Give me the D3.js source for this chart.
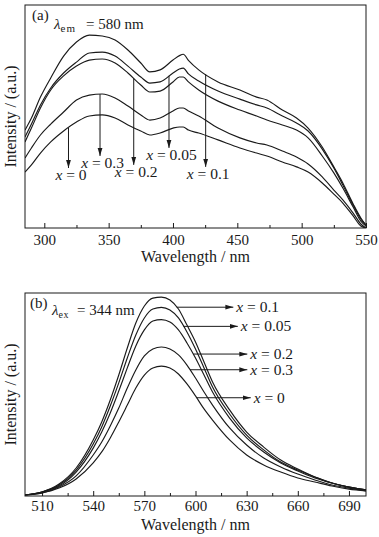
<!DOCTYPE html>
<html><head><meta charset="utf-8">
<script src="https://cdn.jsdelivr.net/npm/d3@7"></script>
<style>
body{margin:0;background:#fff}
svg{display:block}
</style>
</head><body><svg id="c" width="379" height="537"></svg>
<script>
// ---------- Panel (a): excitation spectra, lambda_em = 580 nm ----------
const exWl = [285,290,297,305,315,325,335,345,355,365,375,382,390,400,405,408,412,420,435,452,465,473,485,496,505,516,525,532,540,546,550];
const exX01  = [43.9,49.3,58.7,67.3,77.1,83.4,86.5,86.1,84.3,79.8,74.0,70.0,70.9,75.3,77.3,77.9,75.2,70.9,65.5,61.9,58.7,57.4,52.9,49.3,44.8,36.3,27.4,20.2,10.8,4.5,1.3];
const exX005 = [40.8,46.6,55.2,62.8,69.5,74.4,78.5,78.9,77.1,72.6,67.7,65.0,65.5,69.5,71.3,71.7,69.1,65.9,61.4,57.8,55.2,53.8,50.2,47.1,43.5,35.4,26.9,19.3,10.3,4.0,1.3];
const exX02  = [38.6,44.8,53.8,61.9,68.2,72.6,75.3,75.8,74.0,69.5,64.1,61.0,61.4,65.5,67.7,67.7,65.5,61.9,56.9,52.9,50.2,48.4,46.2,43.9,40.4,32.3,24.7,17.9,9.4,3.1,0.9];
const exX03  = [31.4,35.9,41.7,46.6,52.0,57.4,59.6,60.1,58.3,54.7,50.7,48.4,49.3,52.5,53.8,53.8,52.5,50.2,44.8,40.4,38.1,37.2,34.5,31.8,28.7,22.9,17.0,12.6,6.7,1.8,0];
const exX0   = [25.1,28.3,33.6,38.6,43.5,47.5,50.2,50.7,49.3,46.2,43.5,41.7,42.6,44.8,45.3,45.3,43.9,42.6,39.5,35.9,33.6,32.3,29.6,27.4,25.1,20.2,15.2,11.2,5.4,0.9,0];
const exTicksMajor = [300,350,400,450,500,550];
const exTicksMinor = [325,375,425,475,525];
// arrows (a): wavelength where arrow leaves the curve, intensity of arrow tip
const exArrowWl  = [425.4,396.9,369.5,343.3,318.8];
const exArrowTip = [27.4,35.9,28.3,32.3,26.9];

// ---------- Panel (b): emission spectra, lambda_ex = 344 nm ----------
const emWl = [500,510,520,530,540,545,550,555,560,565,570,575,580,585,590,595,600,605,610,620,630,640,650,660,670,680,690,700];
const emX01  = [0.5,2.0,5.9,13.8,27.6,36.5,47.3,59.6,72.9,85.2,93.6,97.5,98.0,96.6,92.1,84.2,75.9,66.0,56.2,42.4,31.5,24.1,17.7,13.3,9.4,6.4,4.4,3.0];
const emX005 = [0.5,2.0,5.4,12.8,25.6,34.0,44.3,55.7,68.0,79.3,87.7,92.1,92.9,91.6,87.7,80.8,72.4,63.1,53.7,40.4,30.0,22.7,16.7,12.8,9.4,6.4,4.4,3.0];
const emX02  = [0.5,2.0,4.9,11.8,23.6,31.5,40.9,51.7,63.1,73.9,81.8,86.2,86.9,85.7,81.8,75.4,68.0,59.6,51.2,38.4,28.6,21.7,16.3,12.3,8.9,6.4,4.4,3.0];
const emX03  = [0.5,1.5,4.4,9.9,20.2,26.6,34.5,43.3,53.2,62.1,69.0,72.4,73.4,72.4,69.5,64.5,58.1,51.2,44.8,33.5,25.1,18.7,14.3,10.8,7.9,5.4,3.9,2.5];
const emX0   = [0.5,1.5,3.9,8.4,16.3,21.7,28.6,36.5,44.8,53.2,59.6,63.1,64.0,63.1,60.1,55.2,49.3,42.9,37.4,27.6,20.2,15.3,11.8,8.9,6.9,4.9,3.4,2.5];
const emTicksMajor = [510,540,570,600,630,660,690];
const emTicksMinor = [525,555,585,615,645,675];
// arrows (b): wavelength where arrow leaves the curve, wavelength of arrow tip
const emArrowWl    = [589,593,598.7,596.8,600.7];
const emArrowTipWl = [622.2,624.8,630.4,630.4,632.4];

const seriesX = ["0.1","0.05","0.2","0.3","0"];

// ---------- drawing ----------
const FONT = '"Liberation Serif","Times New Roman","DejaVu Serif",Times,serif';
const svg = d3.select("#c");
const ink = "#1a1a1a";

const defs = svg.append("defs");
defs.append("marker").attr("id","ah").attr("viewBox","0 -3 8 6")
  .attr("refX",8).attr("refY",0).attr("markerWidth",8).attr("markerHeight",6)
  .attr("markerUnits","userSpaceOnUse").attr("orient","auto")
  .append("path").attr("d","M0,-2.4L8,0L0,2.4Z").attr("fill",ink);

function txt(sel){ return sel.style("font-family",FONT).attr("fill",ink); }

function interp(xs, ys, x){
  const i = Math.max(1, Math.min(xs.length-1, d3.bisectLeft(xs, x)));
  const t = (x - xs[i-1])/(xs[i]-xs[i-1]);
  return ys[i-1] + t*(ys[i]-ys[i-1]);
}

function panel(o){
  const g = svg.append("g");
  const x = d3.scaleLinear(o.xd, [25,366]);
  const y = d3.scaleLinear([0,100], [o.bottom, o.top]);
  const cid = "clip"+o.id;
  defs.append("clipPath").attr("id",cid).append("rect")
    .attr("x",25).attr("y",o.top).attr("width",341).attr("height",o.bottom-o.top);

  // curves
  const line = d3.line().x((d,i)=>x(o.wl[i])).y(d=>y(d)).curve(d3.curveMonotoneX);
  g.append("g").attr("clip-path",`url(#${cid})`).selectAll("path").data(o.series).join("path")
    .attr("d",d=>line(d)).attr("fill","none").attr("stroke",ink).attr("stroke-width",1.15);

  // axes (ticks inward)
  const ax = g.append("g").attr("transform",`translate(0,${o.bottom})`)
    .call(d3.axisBottom(x).tickValues(o.major).tickSizeInner(-5).tickSizeOuter(0).tickPadding(o.pad).tickFormat(d3.format("d")));
  ax.select(".domain").remove();
  ax.selectAll("line").attr("stroke",ink);
  txt(ax.selectAll("text")).attr("font-size",15);
  const axm = g.append("g").attr("transform",`translate(0,${o.bottom})`)
    .call(d3.axisBottom(x).tickValues(o.minor).tickSizeInner(-3).tickSizeOuter(0).tickFormat(""));
  axm.select(".domain").remove();
  axm.selectAll("line").attr("stroke",ink);

  // frame
  g.append("rect").attr("x",25).attr("y",o.top).attr("width",341).attr("height",o.bottom-o.top)
    .attr("fill","none").attr("stroke",ink).attr("stroke-width",1);

  // axis titles
  txt(g.append("text")).attr("x",195.5).attr("y",o.bottom+34).attr("text-anchor","middle")
    .attr("font-size",16).text("Wavelength / nm");
  txt(g.append("text")).attr("transform",`translate(15.5,${(o.top+o.bottom)/2}) rotate(-90)`)
    .attr("text-anchor","middle").attr("font-size",16).text("Intensity / (a.u.)");

  // panel tag + lambda
  txt(g.append("text")).attr("x",o.tagX).attr("y",o.tagY).attr("font-size",15).text(o.tag);
  const lt = txt(g.append("text")).attr("x",o.lamX).attr("y",o.lamY).attr("font-size",15);
  lt.append("tspan").attr("font-style","italic").text("λ");
  lt.append("tspan").attr("font-size",o.subSize).attr("dy",3).attr("letter-spacing",o.subSp).text(o.sub);
  lt.append("tspan").attr("x",o.eqX).attr("dy",-3).text("= "+o.lam);

  return {g,x,y};
}

function arrowLabel(g, x, y, s, anchor){
  const t = txt(g.append("text")).attr("x",x).attr("y",y).attr("text-anchor",anchor).attr("font-size",15.5);
  t.append("tspan").attr("font-style","italic").text("x");
  t.append("tspan").text(" = "+s);
}

// Panel (a)
const A = panel({id:"a", xd:[285,550], top:5, bottom:228, wl:exWl,
  series:[exX01,exX005,exX02,exX03,exX0], major:exTicksMajor, minor:exTicksMinor, pad:6.5,
  tag:"(a)", tagX:32, tagY:20, lamX:54, lamY:28.5, sub:"em", subSize:11, subSp:1, eqX:86, lam:"580 nm"});
const exSer = [exX01,exX005,exX02,exX03,exX0];
seriesX.forEach((s,i)=>{
  const wl = exArrowWl[i];
  const y0 = interp(exWl, exSer[i], wl);
  A.g.append("line").attr("x1",A.x(wl)).attr("x2",A.x(wl))
    .attr("y1",A.y(y0)).attr("y2",A.y(exArrowTip[i]))
    .attr("stroke",ink).attr("stroke-width",1).attr("marker-end","url(#ah)");
  arrowLabel(A.g, A.x(wl)+2.5, A.y(exArrowTip[i])+12, s, "middle");
});

// Panel (b)
const B = panel({id:"b", xd:[500,700], top:293, bottom:496, wl:emWl,
  series:[emX01,emX005,emX02,emX03,emX0], major:emTicksMajor, minor:emTicksMinor, pad:4.5,
  tag:"(b)", tagX:30, tagY:308, lamX:52, lamY:315, sub:"ex", subSize:10, subSp:0.5, eqX:77, lam:"344 nm"});
const emSer = [emX01,emX005,emX02,emX03,emX0];
seriesX.forEach((s,i)=>{
  const wl = emArrowWl[i];
  const yv = B.y(interp(emWl, emSer[i], wl));
  B.g.append("line").attr("x1",B.x(wl)).attr("x2",B.x(emArrowTipWl[i]))
    .attr("y1",yv).attr("y2",yv)
    .attr("stroke",ink).attr("stroke-width",1).attr("marker-end","url(#ah)");
  arrowLabel(B.g, B.x(emArrowTipWl[i])+3, yv+5, s, "start");
});
</script>
</body></html>
